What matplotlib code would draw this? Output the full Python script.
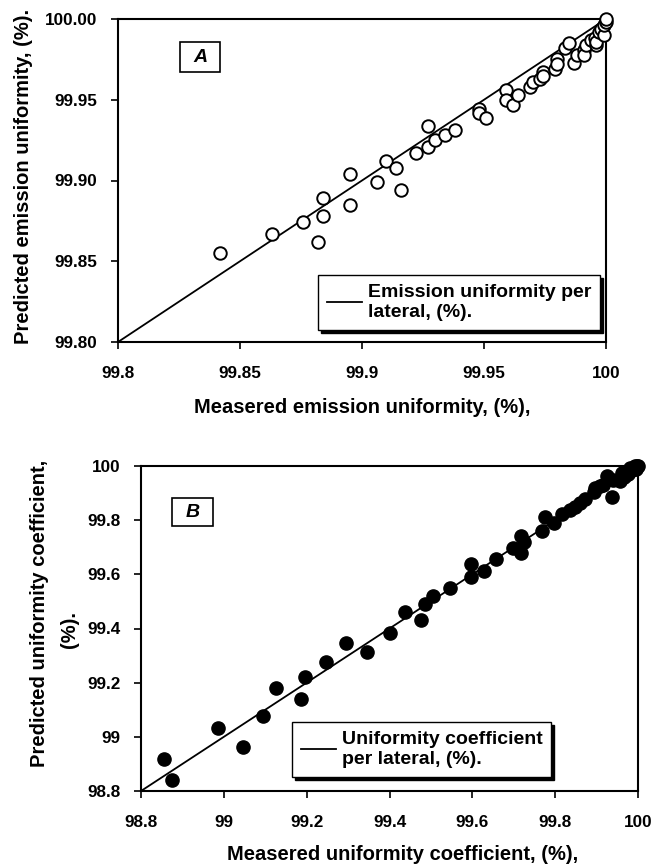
import matplotlib
matplotlib.use('Agg')
import matplotlib.pyplot as plt
from matplotlib.patches import Rectangle

plt.rcParams['font.family'] = ['Liberation Sans', 'DejaVu Sans']
plt.rcParams['font.weight'] = 'bold'
plt.rcParams['font.size'] = 12

# Panel A: emission uniformity per lateral (%)
eu_measured = [99.842, 99.863, 99.876, 99.882, 99.884, 99.884, 99.895, 99.895, 99.906,
               99.910, 99.914, 99.916, 99.922, 99.927, 99.927, 99.930, 99.934, 99.938,
               99.948, 99.948, 99.951, 99.959, 99.959, 99.962, 99.964, 99.969, 99.970,
               99.973, 99.974, 99.974, 99.979, 99.980, 99.980, 99.983, 99.985, 99.987,
               99.988, 99.991, 99.991, 99.992, 99.994, 99.9955, 99.996, 99.996, 99.997,
               99.998, 99.999, 99.999, 100.0, 100.0]
eu_predicted = [99.855, 99.867, 99.874, 99.862, 99.878, 99.889, 99.885, 99.904, 99.899,
                99.912, 99.908, 99.894, 99.917, 99.934, 99.921, 99.925, 99.928, 99.931,
                99.944, 99.942, 99.939, 99.956, 99.950, 99.947, 99.953, 99.958, 99.961,
                99.963, 99.967, 99.965, 99.969, 99.975, 99.972, 99.982, 99.985, 99.973,
                99.978, 99.981, 99.978, 99.984, 99.987, 99.988, 99.984, 99.986, 99.992,
                99.994, 99.990, 99.996, 99.998, 100.0]
eu_fit_x = [99.8, 100.0]
eu_fit_y = [99.8, 100.0]

# Panel B: uniformity coefficient per lateral (%)
uc_measured = [98.856, 98.874, 98.985, 99.046, 99.095, 99.125, 99.186, 99.195, 99.246,
               99.295, 99.346, 99.400, 99.438, 99.476, 99.486, 99.506, 99.546, 99.596,
               99.596, 99.627, 99.657, 99.697, 99.717, 99.725, 99.717, 99.768, 99.776,
               99.798, 99.816, 99.836, 99.848, 99.860, 99.872, 99.893, 99.895, 99.909,
               99.915, 99.925, 99.937, 99.940, 99.957, 99.961, 99.965, 99.975, 99.981,
               99.985, 99.993, 99.995, 100.0, 99.998]
uc_predicted = [98.918, 98.841, 99.032, 98.964, 99.077, 99.182, 99.140, 99.222, 99.278,
                99.348, 99.315, 99.385, 99.462, 99.432, 99.491, 99.521, 99.549, 99.638,
                99.589, 99.613, 99.657, 99.699, 99.742, 99.721, 99.680, 99.760, 99.811,
                99.791, 99.823, 99.838, 99.850, 99.865, 99.877, 99.905, 99.920, 99.926,
                99.930, 99.963, 99.884, 99.950, 99.946, 99.973, 99.960, 99.970, 99.991,
                99.985, 100.0, 99.990, 100.0, 100.0]
uc_fit_x = [98.8, 100.0]
uc_fit_y = [98.8, 100.0]

W, H = 654, 868
LABEL_SIZE = 14.5
LEGEND_SIZE = 14
fig = plt.figure(figsize=(W / 100, H / 100), dpi=100)


def frac(left, top, right, bottom):
    return [left / W, 1 - bottom / H, (right - left) / W, (bottom - top) / H]


def style_axes(ax):
    for s in ax.spines.values():
        s.set_linewidth(1.5)
        s.set_color('black')
    ax.tick_params(axis='both', direction='out', length=5, width=1.2, labelsize=12.3)
    ax.tick_params(axis='x', pad=12)
    ax.tick_params(axis='y', pad=10)
    for lab in ax.get_xticklabels() + ax.get_yticklabels():
        lab.set_fontweight('bold')


def make_legend(ax, anchor):
    leg = ax.legend(loc='lower left', bbox_to_anchor=anchor, borderaxespad=0,
                    fancybox=False, edgecolor='black', framealpha=1, handlelength=1.8,
                    borderpad=0.45, handletextpad=0.3,
                    shadow={'facecolor': 'black', 'edgecolor': 'black', 'alpha': 1},
                    prop={'weight': 'bold', 'size': LEGEND_SIZE})
    leg.get_frame().set_linewidth(1.0)
    for t in leg.get_texts():
        t.set_linespacing(1.25)
    return leg


# ---------- A ----------
axA = fig.add_axes(frac(118, 19, 606, 342))
axA.plot(eu_fit_x, eu_fit_y, color='black', lw=1.3, label='Emission uniformity per\nlateral, (%).', zorder=2)
axA.plot(eu_measured, eu_predicted, linestyle='none', marker='o', ms=9, mfc='white',
         mec='black', mew=1.4, zorder=3, clip_on=False)
axA.set_xlim(99.8, 100.0)
axA.set_ylim(99.8, 100.0)
axA.set_xticks([99.8, 99.85, 99.9, 99.95, 100.0])
axA.set_xticklabels(['99.8', '99.85', '99.9', '99.95', '100'])
axA.set_yticks([99.8, 99.85, 99.9, 99.95, 100.0])
axA.set_yticklabels(['99.80', '99.85', '99.90', '99.95', '100.00'])
style_axes(axA)
make_legend(axA, (0.41, 0.037))
axA.add_patch(Rectangle((0.127, 0.836), 0.082, 0.093, transform=axA.transAxes,
                        fill=False, edgecolor='black', lw=1.2))
axA.text(0.168, 0.882, 'A', transform=axA.transAxes, ha='center', va='center',
         fontsize=14, fontweight='bold', fontstyle='italic')
fig.text(24 / W, 1 - 176 / H, 'Predicted emission uniformity, (%).', rotation=90,
         ha='center', va='center', fontsize=LABEL_SIZE, fontweight='bold')
fig.text(362 / W, 1 - 408 / H, 'Measered emission uniformity, (%),', ha='center',
         va='center', fontsize=LABEL_SIZE, fontweight='bold')

# ---------- B ----------
axB = fig.add_axes(frac(141, 466, 638, 791))
axB.plot(uc_fit_x, uc_fit_y, color='black', lw=1.3, label='Uniformity coefficient\nper lateral, (%).', zorder=2)
axB.plot(uc_measured, uc_predicted, linestyle='none', marker='o', ms=9.5, mfc='black',
         mec='black', zorder=3, clip_on=False)
axB.set_xlim(98.8, 100.0)
axB.set_ylim(98.8, 100.0)
axB.set_xticks([98.8, 99.0, 99.2, 99.4, 99.6, 99.8, 100.0])
axB.set_xticklabels(['98.8', '99', '99.2', '99.4', '99.6', '99.8', '100'])
axB.set_yticks([98.8, 99.0, 99.2, 99.4, 99.6, 99.8, 100.0])
axB.set_yticklabels(['98.8', '99', '99.2', '99.4', '99.6', '99.8', '100'])
style_axes(axB)
make_legend(axB, (0.304, 0.043))
axB.add_patch(Rectangle((0.0625, 0.815), 0.0825, 0.086, transform=axB.transAxes,
                        fill=False, edgecolor='black', lw=1.2))
axB.text(0.1036, 0.858, 'B', transform=axB.transAxes, ha='center', va='center',
         fontsize=14, fontweight='bold', fontstyle='italic')
fig.text(40 / W, 1 - 613 / H, 'Predicted uniformity coefficient,', rotation=90,
         ha='center', va='center', fontsize=LABEL_SIZE, fontweight='bold')
fig.text(69 / W, 1 - 630 / H, '(%).', rotation=90,
         ha='center', va='center', fontsize=LABEL_SIZE, fontweight='bold')
fig.text(403 / W, 1 - 854 / H, 'Measered uniformity coefficient, (%),', ha='center',
         va='center', fontsize=LABEL_SIZE, fontweight='bold')

fig.savefig('out.png', dpi=100)
